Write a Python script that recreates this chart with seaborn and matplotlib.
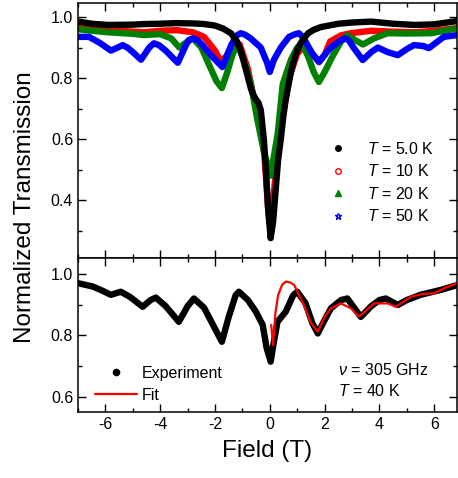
import numpy as np
import matplotlib
matplotlib.use('Agg')
import matplotlib.pyplot as plt
import seaborn as sns
from matplotlib.lines import Line2D
from matplotlib.ticker import MultipleLocator

# Datos (campo en T, transmision normalizada)
field_5K = [-7.0, -6.5, -5.9, -5.0, -4.6, -4.0, -3.4, -2.8, -2.4, -2.0, -1.7, -1.42, -1.2, -1.06,
            -0.85, -0.69, -0.6, -0.51, -0.42, -0.33, -0.22, -0.15, -0.07, 0.03, 0.12, 0.22, 0.3,
            0.4, 0.5, 0.58, 0.77, 0.9, 1.0, 1.1, 1.2, 1.4, 1.6, 1.86, 2.5, 3.0, 3.7, 4.5, 5.3,
            6.0, 6.85]
trans_5K = [0.985, 0.978, 0.974, 0.975, 0.977, 0.978, 0.98, 0.979, 0.977, 0.972, 0.962, 0.947, 0.92, 0.89,
            0.82, 0.765, 0.745, 0.73, 0.72, 0.695, 0.60, 0.51, 0.38, 0.275, 0.33, 0.44, 0.53,
            0.60, 0.68, 0.73, 0.82, 0.865, 0.89, 0.91, 0.925, 0.947, 0.958, 0.967, 0.978, 0.982, 0.985,
            0.978, 0.974, 0.976, 0.987]

field_10K = [-7.0, -6.0, -5.0, -4.6, -4.0, -3.4, -2.8, -2.4, -2.0, -1.8, -1.6, -1.3, -1.1, -0.8,
             -0.6, -0.4, -0.2, -0.05, 0.0, 0.08, 0.25, 0.45, 0.7, 1.0, 1.3, 1.55, 1.8, 2.0,
             2.2, 2.6, 2.96, 3.7, 4.5, 5.3, 6.0, 6.85]
trans_10K = [0.964, 0.958, 0.952, 0.95, 0.955, 0.957, 0.95, 0.935, 0.89, 0.855, 0.87, 0.915, 0.91, 0.83,
             0.74, 0.68, 0.55, 0.36, 0.32, 0.36, 0.52, 0.66, 0.80, 0.88, 0.91, 0.88, 0.852, 0.875,
             0.92, 0.94, 0.947, 0.955, 0.952, 0.95, 0.955, 0.964]

field_20K = [-7.0, -6.5, -5.9, -5.0, -4.6, -4.0, -3.6, -3.3, -3.0, -2.8, -2.5, -2.2, -1.95, -1.75,
             -1.55, -1.35, -1.17, -0.95, -0.69, -0.47, -0.22, 0.03, 0.29, 0.47, 0.77, 1.0, 1.13, 1.25,
             1.4, 1.6, 1.79, 2.0, 2.34, 2.6, 2.84, 3.1, 3.4, 3.8, 4.3, 5.0, 5.9, 6.85]
trans_20K = [0.96, 0.955, 0.95, 0.945, 0.941, 0.944, 0.93, 0.90, 0.92, 0.93, 0.90, 0.84, 0.79, 0.767,
             0.82, 0.88, 0.908, 0.86, 0.78, 0.67, 0.56, 0.48, 0.62, 0.78, 0.86, 0.9, 0.908, 0.9,
             0.87, 0.82, 0.787, 0.82, 0.88, 0.92, 0.94, 0.925, 0.91, 0.93, 0.947, 0.946, 0.947, 0.963]

field_50K = [-7.0, -6.6, -6.2, -5.8, -5.55, -5.37, -5.2, -5.0, -4.7, -4.4, -4.23, -4.05, -3.8, -3.36,
             -3.05, -2.95, -2.8, -2.65, -2.52, -2.1, -1.73, -1.4, -1.2, -1.06, -0.9, -0.7, -0.33,
             -0.1, 0.0, 0.15, 0.4, 0.7, 0.9, 1.06, 1.2, 1.3, 1.55, 1.79, 2.2, 2.6, 2.77, 2.9, 3.05,
             3.39, 3.7, 3.94, 4.3, 4.67, 5.0, 5.26, 5.6, 5.8, 6.35, 6.85]
trans_50K = [0.935, 0.935, 0.915, 0.89, 0.9, 0.908, 0.9, 0.885, 0.86, 0.90, 0.914, 0.908, 0.89, 0.85,
             0.91, 0.925, 0.93, 0.925, 0.914, 0.87, 0.836, 0.91, 0.94, 0.947, 0.942, 0.93, 0.90,
             0.85, 0.82, 0.86, 0.90, 0.935, 0.943, 0.947, 0.935, 0.92, 0.88, 0.853, 0.898, 0.925, 0.93,
             0.922, 0.90, 0.859, 0.885, 0.90, 0.885, 0.875, 0.895, 0.908, 0.905, 0.898, 0.935, 0.941]

# Panel inferior: T = 40 K, 305 GHz
field_exp = [-7.0, -6.46, -6.1, -5.8, -5.44, -5.1, -4.64, -4.35, -4.16, -3.8, -3.32, -3.0, -2.77, -2.4,
             -2.05, -1.75, -1.5, -1.25, -1.13, -0.8, -0.51, -0.26, -0.12, 0.03, 0.15, 0.28, 0.58,
             0.85, 1.0, 1.3, 1.55, 1.75, 2.0, 2.23, 2.6, 2.83, 3.32, 3.7, 4.0, 4.23, 4.67, 5.0, 5.5,
             6.24, 6.85]
trans_exp = [0.97, 0.959, 0.945, 0.932, 0.942, 0.925, 0.893, 0.915, 0.923, 0.895, 0.844, 0.895, 0.92, 0.89,
             0.83, 0.779, 0.86, 0.93, 0.942, 0.915, 0.877, 0.834, 0.76, 0.714, 0.78, 0.844, 0.877,
             0.93, 0.942, 0.905, 0.84, 0.806, 0.85, 0.888, 0.915, 0.92, 0.86, 0.895, 0.915, 0.92, 0.899,
             0.915, 0.932, 0.948, 0.964]

field_fit = [0.05, 0.12, 0.2, 0.3, 0.45, 0.58, 0.75, 0.89, 1.24, 1.5, 1.75, 2.0, 2.23, 2.59, 2.96,
             3.25, 3.5, 3.8, 4.3, 4.6, 5.15, 5.6, 6.0, 6.4, 6.85]
trans_fit = [0.834, 0.768, 0.87, 0.93, 0.965, 0.975, 0.972, 0.964, 0.899, 0.84, 0.812, 0.86, 0.888, 0.904,
             0.888, 0.861, 0.88, 0.904, 0.904, 0.893, 0.926, 0.935, 0.937, 0.955, 0.97]

sns.set_style('ticks')
plt.rcParams['font.family'] = ['Liberation Sans', 'DejaVu Sans']
plt.rcParams['mathtext.fontset'] = 'custom'
plt.rcParams['mathtext.rm'] = 'Liberation Sans'
plt.rcParams['mathtext.it'] = 'Liberation Sans:italic'
for key in ['text.color', 'axes.labelcolor', 'xtick.color', 'ytick.color', 'axes.edgecolor']:
    plt.rcParams[key] = 'black'

W, H = 458, 478
fig = plt.figure(figsize=(W / 100, H / 100), dpi=100)
left, right = 78 / W, 457 / W
ax1 = fig.add_axes([left, 1 - 258 / H, right - left, (258 - 3) / H])
ax2 = fig.add_axes([left, 1 - 412 / H, right - left, (412 - 258) / H])

lw = 4.6
style = dict(sort=False, solid_joinstyle='round', solid_capstyle='round')
sns.lineplot(x=field_10K, y=trans_10K, ax=ax1, color='#ff0000', lw=lw, **style)
sns.lineplot(x=field_20K, y=trans_20K, ax=ax1, color='#008000', lw=lw, **style)
sns.lineplot(x=field_50K, y=trans_50K, ax=ax1, color='#0000ff', lw=lw, **style)
sns.lineplot(x=field_5K, y=trans_5K, ax=ax1, color='black', lw=lw, **style)

sns.lineplot(x=field_exp, y=trans_exp, ax=ax2, color='black', lw=lw, **style)
sns.lineplot(x=field_fit, y=trans_fit, ax=ax2, color='#ff0000', lw=1.6, **style)

for ax in (ax1, ax2):
    ax.set_xlim(-7, 6.83)
    ax.xaxis.set_major_locator(MultipleLocator(2))
    ax.xaxis.set_minor_locator(MultipleLocator(1))
    ax.yaxis.set_major_locator(MultipleLocator(0.2))
    ax.yaxis.set_minor_locator(MultipleLocator(0.1))
    ax.tick_params(which='both', direction='in', top=True, right=True, labelsize=11.5,
                   width=1.0, color='black', labelcolor='black')
    ax.tick_params(which='major', length=6)
    ax.tick_params(which='minor', length=3)
    for sp in ax.spines.values():
        sp.set_linewidth(1.1)
        sp.set_color('black')
    ax.set_xlabel('')
    ax.set_ylabel('')

ax1.set_ylim(0.21, 1.046)
ax1.tick_params(labelbottom=False)
ax2.set_ylim(0.55, 1.052)
ax2.set_xticks([-6, -4, -2, 0, 2, 4, 6])
ax2.set_xticklabels(['-6', '-4', '-2', '0', '2', '4', '6'])

ax2.set_xlabel('Field (T)', fontsize=17.5, labelpad=6)
fig.text(25 / W, 1 - 207 / H, 'Normalized Transmission', rotation=90,
         fontsize=17.5, ha='center', va='center')

# Leyenda superior
handles1 = [
    Line2D([], [], ls='none', marker='o', ms=4, color='black', label='$T$ = 5.0 K'),
    Line2D([], [], ls='none', marker='o', ms=4, mfc='none', mec='#ff0000', mew=1, label='$T$ = 10 K'),
    Line2D([], [], ls='none', marker='^', ms=4.5, color='#008000', label='$T$ = 20 K'),
    Line2D([], [], ls='none', marker='*', ms=5, mfc='none', mec='#0000ff', mew=1, label='$T$ = 50 K'),
]
ax1.legend(handles=handles1, loc='upper left', bbox_to_anchor=(330 / W, 1 - 141 / H),
           bbox_transform=fig.transFigure, frameon=False, fontsize=11.5, borderpad=0,
           borderaxespad=0, handlelength=1.0, handletextpad=1.3, labelspacing=0.4)

# Leyenda inferior
handles2 = [
    Line2D([], [], ls='none', marker='o', ms=4.5, color='black', label='Experiment'),
    Line2D([], [], color='#ff0000', lw=1.6, label='Fit'),
]
ax2.legend(handles=handles2, loc='upper left', bbox_to_anchor=(95 / W, 1 - 366 / H),
           bbox_transform=fig.transFigure, frameon=False, fontsize=11.5, borderpad=0,
           borderaxespad=0, handlelength=2.6, handletextpad=0.3, labelspacing=0.42)

fig.text(338 / W, 1 - 370 / H, r'$\nu$ = 305 GHz', fontsize=11.5, ha='left', va='center')
fig.text(338 / W, 1 - 391 / H, r'$T$ = 40 K', fontsize=11.5, ha='left', va='center')

plt.savefig('out.png', dpi=100)
